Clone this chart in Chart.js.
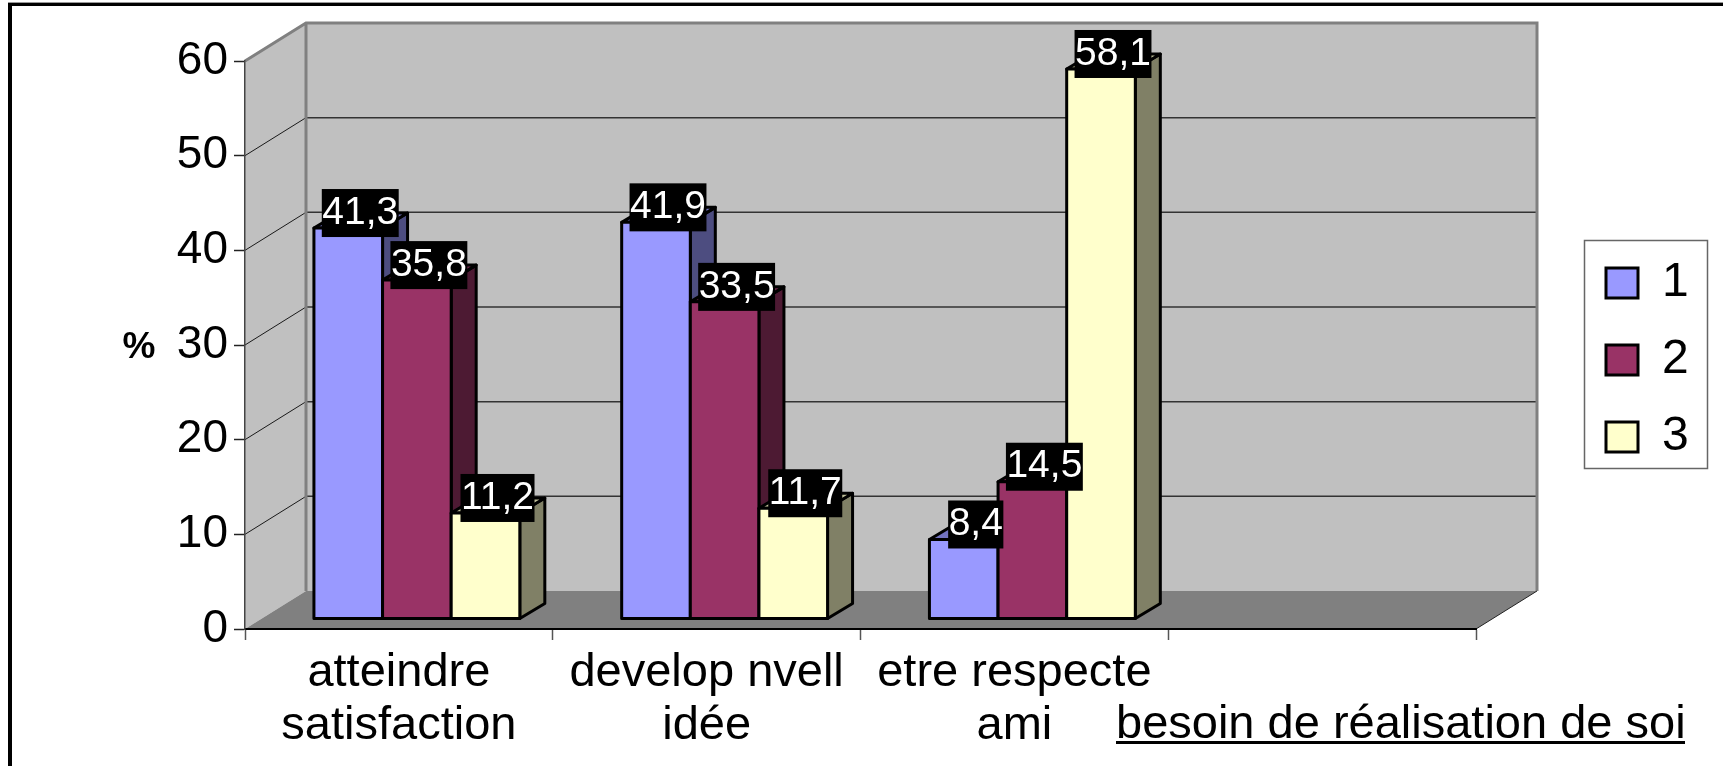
<!DOCTYPE html>
<html>
<head>
<meta charset="utf-8">
<title>besoin de réalisation de soi</title>
<script src="https://cdn.jsdelivr.net/npm/chart.js@4"></script>
<style>
  html, body { margin: 0; padding: 0; background: #fff; }
  canvas { display: block; }
</style>
</head>
<body>
<canvas id="chart" width="1723" height="766"></canvas>
<script>
// Values
const categories = [['atteindre', 'satisfaction'], ['develop nvell', 'idée'], ['etre respecte', 'ami'], ''];
const seriesNames = ['1', '2', '3'];
const series1 = [41.3, 41.9, 8.4, null];
const series2 = [35.8, 33.5, 14.5, null];
const series3 = [11.2, 11.7, 58.1, null];
const yTicks = [0, 10, 20, 30, 40, 50, 60];

// Colours: front, side and top of each series
const frontColors = ['#9999FF', '#993366', '#FFFFCC'];
const sideColors = ['#4D4D80', '#4D1A33', '#808066'];
const topColors = ['#7373BF', '#73264D', '#BFBF99'];

const FONT = '"Liberation Sans", Arial, sans-serif';

// 3D look: depth of the box, and where the bars sit in that depth
const WALL_DX = 61, WALL_DY = 38;
const BAR_SHIFT_X = 18, BAR_SHIFT_Y = 10;
const BAR_DX = 25, BAR_DY = 15;

// Function to draw the walls and floor behind everything
function drawWalls(chart) {
    const ctx = chart.ctx;
    const { x, y } = chart.scales;
    const l = x.left, r = x.right, t = y.getPixelForValue(60), b = y.getPixelForValue(0);

    ctx.save();
    ctx.fillStyle = '#C0C0C0';
    ctx.beginPath();
    ctx.moveTo(l, b);
    ctx.lineTo(l, t);
    ctx.lineTo(l + WALL_DX, t - WALL_DY);
    ctx.lineTo(r + WALL_DX, t - WALL_DY);
    ctx.lineTo(r + WALL_DX, b - WALL_DY);
    ctx.lineTo(l + WALL_DX, b - WALL_DY);
    ctx.closePath();
    ctx.fill();

    // floor
    ctx.fillStyle = '#808080';
    ctx.beginPath();
    ctx.moveTo(l, b);
    ctx.lineTo(r, b);
    ctx.lineTo(r + WALL_DX, b - WALL_DY);
    ctx.lineTo(l + WALL_DX, b - WALL_DY);
    ctx.closePath();
    ctx.fill();

    // gridlines run along the side wall and the back wall
    yTicks.forEach(v => {
        if (v === 0 || v === 60) return;
        const py = y.getPixelForValue(v);
        ctx.strokeStyle = '#1a1a1a';
        ctx.lineWidth = 1;
        ctx.beginPath();
        ctx.moveTo(l, py);
        ctx.lineTo(l + WALL_DX, py - WALL_DY);
        ctx.stroke();
        ctx.strokeStyle = '#333333';
        ctx.lineWidth = 1.5;
        ctx.beginPath();
        ctx.moveTo(l + WALL_DX, py - WALL_DY);
        ctx.lineTo(r + WALL_DX, py - WALL_DY);
        ctx.stroke();
    });

    // wall borders
    ctx.strokeStyle = '#808080';
    ctx.lineWidth = 3;
    ctx.beginPath();
    ctx.moveTo(l, t);
    ctx.lineTo(l + WALL_DX, t - WALL_DY);
    ctx.lineTo(r + WALL_DX, t - WALL_DY);
    ctx.lineTo(r + WALL_DX, b - WALL_DY);
    ctx.moveTo(l + WALL_DX, t - WALL_DY);
    ctx.lineTo(l + WALL_DX, b - WALL_DY);
    ctx.stroke();

    ctx.strokeStyle = '#222222';
    ctx.lineWidth = 1;
    ctx.beginPath();
    ctx.moveTo(r, b);
    ctx.lineTo(r + WALL_DX, b - WALL_DY);
    ctx.stroke();
    ctx.restore();
}

// Function to draw the bars series by series, so each one covers the side of the one before
function drawBars(chart) {
    const ctx = chart.ctx;
    ctx.save();
    ctx.translate(BAR_SHIFT_X, -BAR_SHIFT_Y);
    ctx.strokeStyle = '#000';
    ctx.lineWidth = 3;
    ctx.lineJoin = 'round';

    chart.getSortedVisibleDatasetMetas().forEach(meta => {
        const i = meta.index;
        const bars = meta.data.filter((bar, n) => meta.controller.getDataset().data[n] !== null);

        bars.forEach(bar => {
            const left = bar.x - bar.width / 2, right = bar.x + bar.width / 2;
            ctx.fillStyle = sideColors[i];
            ctx.beginPath();
            ctx.moveTo(right, bar.y);
            ctx.lineTo(right + BAR_DX, bar.y - BAR_DY);
            ctx.lineTo(right + BAR_DX, bar.base - BAR_DY);
            ctx.lineTo(right, bar.base);
            ctx.closePath();
            ctx.fill();
            ctx.stroke();

            ctx.fillStyle = topColors[i];
            ctx.beginPath();
            ctx.moveTo(left, bar.y);
            ctx.lineTo(left + BAR_DX, bar.y - BAR_DY);
            ctx.lineTo(right + BAR_DX, bar.y - BAR_DY);
            ctx.lineTo(right, bar.y);
            ctx.closePath();
            ctx.fill();
            ctx.stroke();
        });

        meta.controller.draw();

        bars.forEach(bar => {
            ctx.strokeRect(bar.x - bar.width / 2, bar.y, bar.width, bar.base - bar.y);
        });
    });
    ctx.restore();
}

// Function to draw the black value boxes, the % sign and the underlined title
function drawTexts(chart) {
    const ctx = chart.ctx;
    ctx.save();
    ctx.textAlign = 'center';
    ctx.textBaseline = 'middle';
    ctx.font = '39px ' + FONT;

    chart.getSortedVisibleDatasetMetas().forEach(meta => {
        const values = meta.controller.getDataset().data;
        meta.data.forEach((bar, n) => {
            if (values[n] === null) return;
            const text = values[n].toFixed(1).replace('.', ',');
            const w = ctx.measureText(text).width + 1;
            const cx = bar.x + BAR_SHIFT_X + 12;
            const cy = bar.y - BAR_SHIFT_Y - 15;
            ctx.fillStyle = '#000';
            ctx.fillRect(cx - w / 2, cy - 24, w, 48);
            ctx.fillStyle = '#fff';
            ctx.fillText(text, cx, cy);
        });
    });

    ctx.fillStyle = '#000';
    ctx.font = 'bold 37px ' + FONT;
    ctx.fillText('%', 139, 348);

    ctx.font = '47px ' + FONT;
    ctx.textAlign = 'left';
    ctx.textBaseline = 'alphabetic';
    ctx.fillText('besoin de réalisation de soi', 1116, 738);
    ctx.fillRect(1116, 741, 569, 3);
    ctx.restore();
}

// Function to draw the legend box and the page frame
function drawFrames(chart) {
    const ctx = chart.ctx;
    ctx.save();
    ctx.strokeStyle = '#666666';
    ctx.lineWidth = 1.5;
    ctx.strokeRect(1584.5, 240.5, 123, 228);
    // the frame only shows on the top and left, the rest is cut off
    ctx.fillStyle = '#999999';
    ctx.fillRect(8, 2, 1715, 1);
    ctx.fillStyle = '#000';
    ctx.fillRect(8, 3, 1715, 3);
    ctx.fillRect(8, 3, 4, 763);
    ctx.restore();
}

const box3dPlugin = {
    id: 'box3d',
    beforeDraw: drawWalls,
    beforeDatasetsDraw(chart) {
        drawBars(chart);
        return false;
    },
    afterDraw(chart) {
        drawFrames(chart);
        drawTexts(chart);
    },
    afterLayout(chart) {
        // legend sits away from the plot, so it is moved after the layout is done
        const legend = chart.legend;
        legend.left = 1577;
        legend.right = 1707;
        legend.top = 230;
        legend.bottom = 766;
    }
};

new Chart(document.getElementById('chart'), {
    type: 'bar',
    data: {
        labels: categories,
        datasets: [series1, series2, series3].map((values, i) => ({
            label: seriesNames[i],
            data: values,
            backgroundColor: frontColors[i],
            borderWidth: 0,
            categoryPercentage: 0.669,
            barPercentage: 1
        }))
    },
    options: {
        responsive: false,
        animation: false,
        layout: { padding: { left: 0, top: 61, right: 147, bottom: 0 } },
        plugins: {
            tooltip: { enabled: false },
            legend: {
                position: 'right',
                align: 'start',
                maxWidth: 100,
                labels: {
                    boxWidth: 32,
                    boxHeight: 30,
                    padding: 29,
                    color: '#000',
                    font: { family: FONT, size: 48 },
                    generateLabels: chart => chart.data.datasets.map((d, i) => ({
                        text: d.label,
                        fillStyle: frontColors[i],
                        strokeStyle: '#000',
                        lineWidth: 3,
                        datasetIndex: i
                    }))
                }
            }
        },
        scales: {
            x: {
                afterFit(scale) { scale.height = 137; },
                grid: { drawOnChartArea: false, tickLength: 11, tickColor: '#555', tickWidth: 1.5 },
                border: { color: '#000', width: 2 },
                ticks: {
                    color: '#000',
                    padding: 6,
                    maxRotation: 0,
                    autoSkip: false,
                    font: { family: FONT, size: 47, lineHeight: 1.13 }
                }
            },
            y: {
                min: 0,
                max: 60,
                afterFit(scale) { scale.width = 245; },
                grid: { drawOnChartArea: false, tickLength: 11, tickColor: '#222', tickWidth: 1.5 },
                border: { color: '#444', width: 1.5 },
                ticks: {
                    color: '#000',
                    stepSize: 10,
                    padding: 6,
                    font: { family: FONT, size: 46 }
                }
            }
        }
    },
    plugins: [box3dPlugin]
});
</script>
</body>
</html>
